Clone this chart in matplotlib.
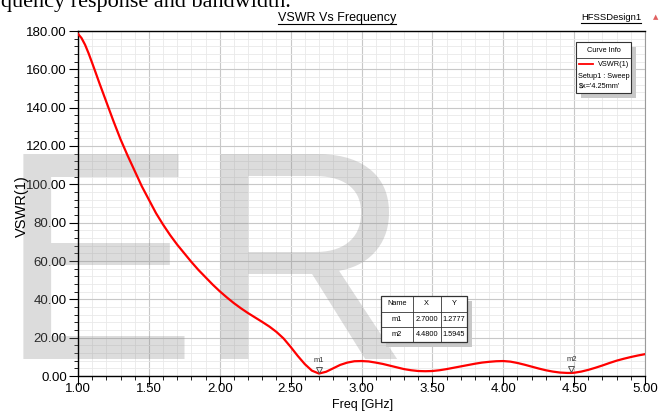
import matplotlib
matplotlib.use("Agg")
import matplotlib.pyplot as plt
from matplotlib.ticker import MultipleLocator, FormatStrFormatter
from matplotlib.patches import Rectangle
from matplotlib.lines import Line2D
from matplotlib import transforms

# VSWR curve
freq = [1.00, 1.025, 1.05, 1.075, 1.10, 1.125, 1.15, 1.20, 1.25, 1.30,
        1.35, 1.40, 1.45, 1.50, 1.55, 1.60, 1.65, 1.70, 1.75, 1.80,
        1.85, 1.90, 1.95, 2.00, 2.05, 2.10, 2.15, 2.20, 2.25, 2.30,
        2.35, 2.40, 2.45, 2.50, 2.55, 2.60, 2.65, 2.70, 2.75, 2.80,
        2.85, 2.90, 2.95, 3.00, 3.05, 3.10, 3.15, 3.20, 3.25, 3.30,
        3.35, 3.40, 3.45, 3.50, 3.55, 3.60, 3.65, 3.70, 3.75, 3.80,
        3.85, 3.90, 3.95, 4.00, 4.05, 4.10, 4.15, 4.20, 4.25, 4.30,
        4.35, 4.40, 4.45, 4.48, 4.50, 4.55, 4.60, 4.65, 4.70, 4.75,
        4.80, 4.85, 4.90, 4.95, 5.00]
vswr = [178.5, 176.3, 172.8, 168.3, 163.3, 158.2, 153.0, 143.0, 133.0, 123.5,
        115.0, 107.0, 99.0, 92.0, 85.0, 79.0, 73.5, 68.5, 64.0, 59.5,
        55.3, 51.5, 47.7, 44.2, 41.0, 38.0, 35.3, 32.8, 30.5, 28.2,
        25.8, 23.0, 19.6, 15.2, 10.5, 6.2, 2.8, 1.28, 2.2, 4.0,
        5.8, 7.0, 7.7, 7.8, 7.6, 7.0, 6.3, 5.4, 4.5, 3.6,
        3.0, 2.6, 2.5, 2.6, 3.0, 3.6, 4.3, 5.0, 5.7, 6.4,
        7.0, 7.4, 7.7, 7.8, 7.5, 6.8, 5.9, 4.9, 3.9, 3.0,
        2.3, 1.8, 1.6, 1.59, 1.7, 2.3, 3.2, 4.3, 5.5, 6.8,
        8.0, 9.0, 9.9, 10.7, 11.4]

marker_names = ['m1', 'm2']
marker_x = [2.7000, 4.4800]
marker_y = [1.2777, 1.5945]

legend_lines = ['Setup1 : Sweep', "$x='4.25mm'"]

W, H = 668, 411
plt.rcParams['font.family'] = ['Liberation Sans', 'DejaVu Sans']


def fx(px):
    return px / W


def fy(py):
    return 1 - py / H


fig = plt.figure(figsize=(W / 100, H / 100), dpi=100)
ax = fig.add_axes([fx(78), fy(376), (645 - 78) / W, (376 - 31) / H])

# big grey watermark behind the plot
ax.text(fx(-1), fy(359), 'ER', transform=fig.transFigure, fontsize=214,
        family='Liberation Sans', color='0.55', alpha=0.3,
        ha='left', va='baseline', clip_on=False, zorder=0.6)

ax.plot(freq, vswr, color='#ff0000', lw=1.6, zorder=3)

# markers
trans = transforms.offset_copy(ax.transData, fig=fig, x=0, y=2.6, units='points')
ax.plot(marker_x, marker_y, 'v', ms=5, mfc='none', mec='#555555', mew=0.7,
        transform=trans, zorder=4)
for n, x, y in zip(marker_names, marker_x, marker_y):
    ax.annotate(n, (x, y), xytext=(0, 9.5), textcoords='offset points',
                ha='center', va='center', fontsize=5.5, color='#333333')

ax.set_xlim(1, 5)
ax.set_ylim(0, 180)
ax.xaxis.set_major_locator(MultipleLocator(0.5))
ax.xaxis.set_minor_locator(MultipleLocator(0.1))
ax.yaxis.set_major_locator(MultipleLocator(20))
ax.yaxis.set_minor_locator(MultipleLocator(4))
ax.xaxis.set_major_formatter(FormatStrFormatter('%.2f'))
ax.yaxis.set_major_formatter(FormatStrFormatter('%.2f'))
ax.tick_params(which='major', direction='out', length=6.5, width=0.8,
               labelsize=9.5, pad=1.5, top=False, right=False)
ax.tick_params(axis='x', which='major', pad=-1.5)
ax.tick_params(which='minor', direction='out', length=3, width=0.6,
               top=False, right=False)
ax.set_axisbelow(True)
ax.grid(which='major', color='#c8c8c8', lw=0.8)
ax.grid(which='minor', color='#e9e9e9', lw=0.6)
for s in ['top', 'left', 'bottom']:
    ax.spines[s].set_color('black')
    ax.spines[s].set_linewidth(1)
ax.spines['right'].set_color('#9a9a9a')

# axis labels
fig.text(fx(363), fy(404.5), 'Freq [GHz]', ha='center', va='center', fontsize=9)
fig.text(fx(22), fy(206), 'VSWR(1)', rotation=90, ha='center', va='center',
         fontsize=10.5)

# titles (underlined)
title = fig.text(fx(337), fy(18), 'VSWR Vs Frequency', ha='center',
                 va='center', fontsize=9)
design = fig.text(fx(611), fy(18), 'HFSSDesign1', ha='center', va='center',
                  fontsize=6.8)
fig.text(fx(656), fy(17), '\u25B2', ha='center', va='center', fontsize=5,
         color='#e06060', family='DejaVu Sans')

# cropped caption from the surrounding document
fig.text(fx(1), fy(7.5), 'quency response and bandwidth.',
         family='Liberation Serif', fontsize=16, ha='left', va='baseline')

fig.canvas.draw()
r = fig.canvas.get_renderer()
for t in [title, design]:
    bb = t.get_window_extent(r)
    fig.add_artist(Line2D([bb.x0 / W, bb.x1 / W], [(bb.y0 - 0.5) / H] * 2,
                          color='black', lw=0.8))

# Curve Info box
fig.add_artist(Rectangle((fx(581), fy(98)), 55 / W, 51 / H, facecolor='#c8c8c8',
                         edgecolor='none'))
fig.add_artist(Rectangle((fx(576), fy(93)), 55 / W, 51 / H, facecolor='white',
                         edgecolor='#333333', lw=0.8))
fig.add_artist(Line2D([fx(576), fx(631)], [fy(58)] * 2, color='#333333', lw=0.6))
fig.text(fx(603.5), fy(50), 'Curve Info', ha='center', va='center', fontsize=5.3)
fig.add_artist(Line2D([fx(579), fx(593)], [fy(64.5)] * 2, color='#ff0000', lw=1.3))
fig.text(fx(629), fy(64.5), 'VSWR(1)', ha='right', va='center', fontsize=5.3)
for i, s in enumerate(legend_lines):
    fig.text(fx(578.5), fy(76 + 10.5 * i), s, ha='left', va='center', fontsize=5.3)

# marker table
tx0, tx1, ty0, ty1 = 381, 467, 296, 342
fig.add_artist(Rectangle((fx(tx0 + 5), fy(ty1 + 5)), (tx1 - tx0) / W,
                         (ty1 - ty0) / H, facecolor='#c8c8c8', edgecolor='none'))
fig.add_artist(Rectangle((fx(tx0), fy(ty1)), (tx1 - tx0) / W, (ty1 - ty0) / H,
                         facecolor='white', edgecolor='#333333', lw=0.9))
col_edges = [381, 412.7, 440.7, 467]
row_edges = [296, 311.5, 326.8, 342]
for c in col_edges[1:-1]:
    fig.add_artist(Line2D([fx(c)] * 2, [fy(ty0), fy(ty1)], color='#333333', lw=0.6))
for rr in row_edges[1:-1]:
    fig.add_artist(Line2D([fx(tx0), fx(tx1)], [fy(rr)] * 2, color='#333333', lw=0.6))
rows = [['Name', 'X', 'Y']] + [[n, f'{x:.4f}', f'{y:.4f}']
                               for n, x, y in zip(marker_names, marker_x, marker_y)]
for i, row in enumerate(rows):
    yc = (row_edges[i] + row_edges[i + 1]) / 2
    for j, cell in enumerate(row):
        xc = (col_edges[j] + col_edges[j + 1]) / 2
        fig.text(fx(xc), fy(yc), cell, ha='center', va='center', fontsize=5.3)

fig.savefig('out.png', dpi=100)
